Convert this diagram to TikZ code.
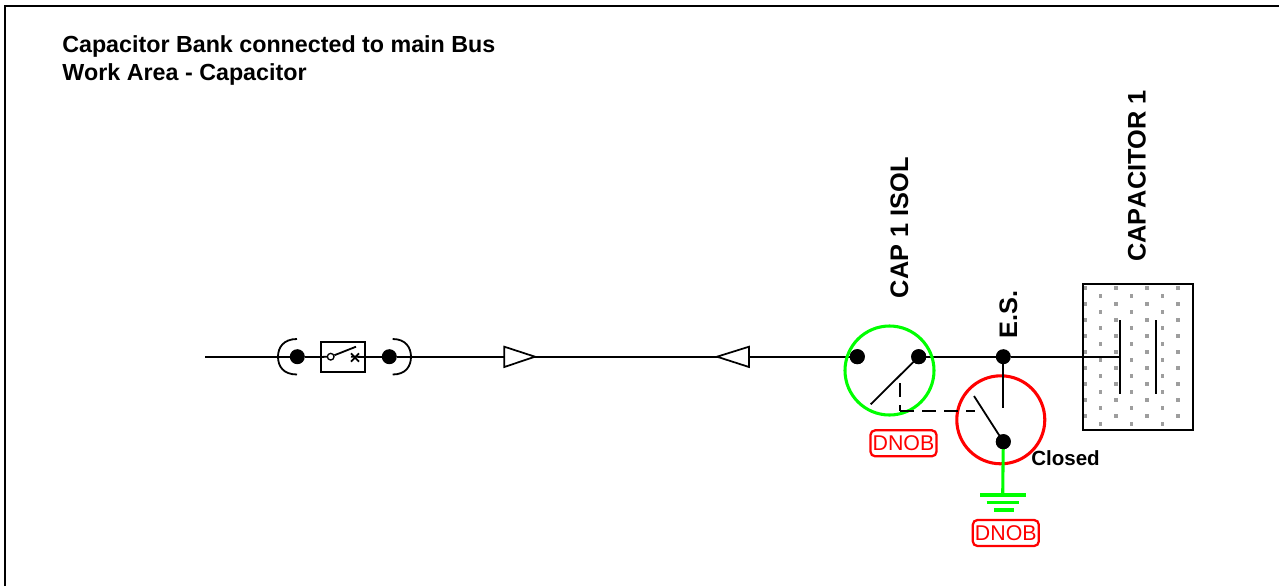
\documentclass[tikz,border=0pt]{standalone}
\usepackage{fontspec}
\setmainfont[Kerning=Off]{Liberation Sans}
\tikzset{
  px/.style={x=0.75pt,y=-0.75pt},
  thin wire/.style={line width=1.5pt},
  stroke/.style={line width=1.35pt},
  junction/.style={circle,fill=black,draw=none,minimum size=11.25pt,inner sep=0pt},
  bold label/.style={font=\bfseries\fontsize{17.45}{20}\selectfont,inner sep=0pt,text=black},
  rot label/.style={font=\bfseries\fontsize{19}{20}\selectfont,inner sep=0pt,text=black,rotate=90,anchor=base west},
  tag/.style={draw=red,line width=1.7pt,rounded corners=3.5pt,text=red,minimum width=49.5pt,minimum height=19.5pt,inner sep=0pt,font=\fontsize{16}{17}\selectfont},
  ring/.style={circle,line width=2.3pt,inner sep=0pt,fill=none},
  feeder/.style={draw=black,line width=1.3pt,fill=white,line join=miter},
  dotmark/.style={fill=black!38,draw=none},
  interlock/.style={stroke,dash pattern=on 10.2pt off 6.3pt}
}
\begin{document}
\begin{tikzpicture}[px]
\useasboundingbox (0,0) rectangle (1279,586);
% frame: only the top and left edges are visible
\draw[line width=1.5pt] (5,586) -- (5,6) -- (1279,6);
% title
\node[bold label,anchor=base west,align=left] (title1) at (62,52.7) {Capacitor Bank connected to main Bus};
\node[bold label,anchor=base west,align=left] (title2) at (62,80.7) {Work Area - Capacitor};
% capacitor
\node[draw=none,minimum width=82.1pt,minimum height=109.5pt,inner sep=0pt] (cap) at (1137.75,357) {};
\foreach \i in {0,...,3}{\foreach \j in {0,...,8}{
  \fill[dotmark] ({1085+31*\i-1.8},{287.7+16*\j-1.8}) rectangle +(3.6,3.6);}}
\foreach \i in {0,...,2}{\foreach \j in {0,...,8}{
  \fill[dotmark] ({1100.3+31*\i-1.8},{295.7+16*\j-1.8}) rectangle +(3.6,3.6);}}
\draw[stroke] (cap.south west) rectangle (cap.north east);
% nodes
\node[junction] (d1) at (297.3,356.7) {};
\node[junction] (d2) at (389.3,356.7) {};
\node[junction] (d3) at (857.3,356.7) {};
\node[junction] (d4) at (918.7,356.7) {};
\node[junction] (d5) at (1003.3,356.7) {};
\node[junction] (d6) at (1003.3,441.7) {};
\coordinate (start) at (205,356.7);
\coordinate (plateA) at (1119.5,356.7);
% main wire
\draw[thin wire] (start) -- (d1) -- (d2) -- (d3);
\draw[thin wire] (d4) -- (d5) -- (plateA);
% brackets
\draw[stroke] (297,339) .. controls (283,339) and (278,348) .. (278,356.7) .. controls (278,366) and (283,374.5) .. (297,374.5);
\draw[stroke] (392.7,339) .. controls (406,339) and (411,348) .. (411,356.7) .. controls (411,366) and (406,374.5) .. (392.7,374.5);
% breaker box
\node[draw=black,fill=white,line width=1.3pt,minimum width=32.5pt,minimum height=22pt,inner sep=0pt] (brk) at (343,357) {};
\draw[stroke] (brk.west) -- (327.7,356.7);
\draw[stroke] (351,356.7) -- (brk.east);
\node[circle,draw=black,fill=white,line width=1pt,minimum size=5pt,inner sep=0pt] (sw) at (330.7,356.7) {};
\coordinate (swtip) at (356,346.7);
\draw[stroke] (sw) -- (swtip);
\draw[stroke] (351,353.3) -- (359,361.7) (351,361.7) -- (359,353.3);
% feeder triangles
\draw[feeder] (504.3,346.7) -- (535,356.7) -- (504.3,367) -- cycle;
\draw[feeder] (749,346.7) -- (717,356.7) -- (749,367) -- cycle;
% isolator
\node[ring,draw=green,minimum size=66.75pt] (iso) at (889.5,370.5) {};
\coordinate (isotip) at (870.7,404.3);
\draw[stroke] (d4.center) -- (isotip);
\node[junction] at (d3) {};
\node[junction] at (d4) {};
% earth switch
\node[ring,draw=red,minimum size=66pt] (es) at (1000.8,419.8) {};
\coordinate (estop) at (1003.3,407.7);
\coordinate (estip) at (974,396);
\draw[stroke] (d5.center) -- (estop);
\draw[stroke] (d6.center) -- (estip);
% interlock, dashed outward from its corner
\coordinate (ilC) at (975,411);
\coordinate (ilB) at (900,411);
\coordinate (ilA) at (900,375);
\draw[interlock] (ilB) -- (ilC);
\draw[interlock,dash phase=5.7pt] (ilB) -- (ilA);
% earth
\coordinate (gnd) at (1002.7,495);
\draw[line width=2.3pt,green] (d6.center) -- (gnd);
\node[junction] at (d6) {};
\draw[line width=2.3pt,green] (980,495) -- (1025.7,495) (986.7,502.7) -- (1018.7,502.7) (994.3,510) -- (1014,510);
% tags
\node[tag] (tag1) at (903.5,443.3) {DNOB};
\node[tag] (tag2) at (1005.8,533) {DNOB};
% labels
\node[bold label,anchor=base west,font=\bfseries\fontsize{15.4}{16}\selectfont] (closed) at (1031,465.7) {Closed};
\node[rot label] (l1) at (908,298.3) {CAP 1 ISOL};
\node[rot label] (l2) at (1017,338.3) {E.S.};
\node[rot label] (l3) at (1145.7,262) {CAPACITOR 1};
% plates
\draw[line width=1.5pt] (1119.5,320) -- (1119.5,394);
\draw[line width=1.5pt] (1156,320) -- (1156,394);
\end{tikzpicture}
\end{document}
